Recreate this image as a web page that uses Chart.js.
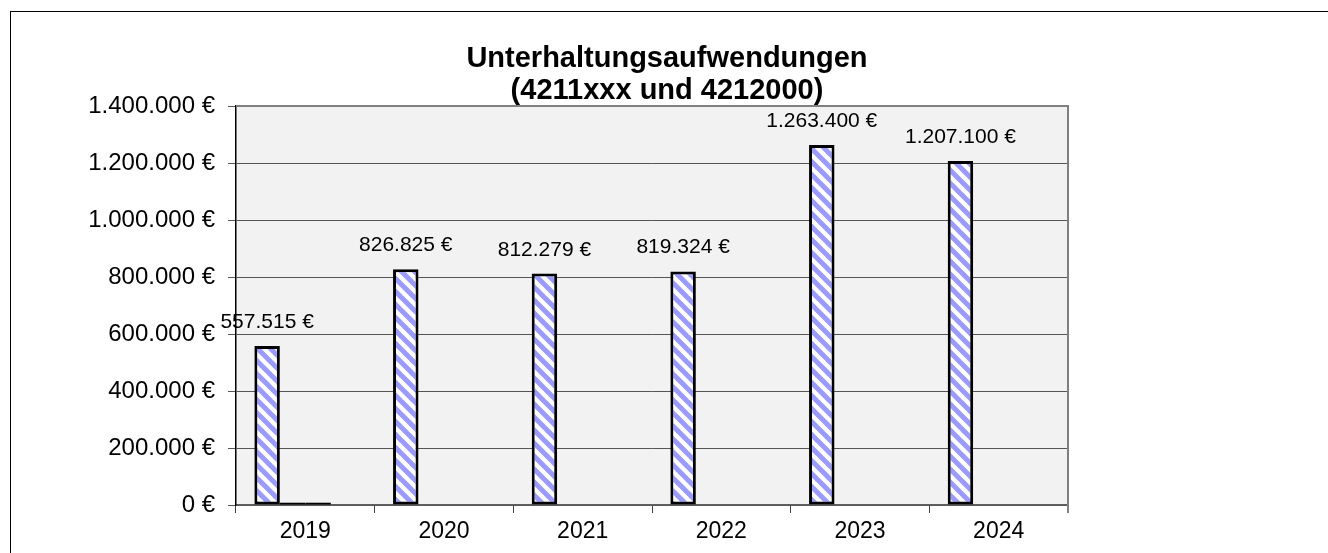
<!DOCTYPE html>
<html>
<head>
<meta charset="utf-8">
<script src="https://cdn.jsdelivr.net/npm/chart.js@4.4.0/dist/chart.umd.min.js"></script>
<style>
  html, body { margin: 0; padding: 0; background: #fff; }
  #wrap { position: relative; width: 1328px; height: 553px; overflow: hidden; }
  #frame { position: absolute; left: 10px; top: 11px; width: 1330px; height: 560px;
           border-top: 1.5px solid #000; border-left: 1.5px solid #000; box-sizing: border-box; }
  canvas { position: absolute; left: 0; top: 0; }
</style>
</head>
<body>
<div id="wrap">
  <div id="frame"></div>
  <canvas id="chart" width="1328" height="553"></canvas>
</div>
<script>
// Chart data
const years = ['2019', '2020', '2021', '2022', '2023', '2024'];
const aufwand = [557515, 826825, 812279, 819324, 1263400, 1207100];
const reihe2 = [8000, null, null, null, null, null];
const reihe3 = [8000, null, null, null, null, null];
const reihe4 = [null, null, null, null, null, null];
const titleLines = ['Unterhaltungsaufwendungen', '(4211xxx und 4212000)'];
const yMax = 1400000;
const yStep = 200000;

const FONT = '"Liberation Sans", Arial, sans-serif';

const euro = (v) => String(Math.round(v)).replace(/\B(?=(\d{3})+(?!\d))/g, '.') + ' €';

// blue/white diagonal hatch like the old Excel fill
function makeHatch() {
    const n = 13;
    const c = document.createElement('canvas');
    c.width = n; c.height = n;
    const g = c.getContext('2d');
    g.fillStyle = '#ffffff';
    g.fillRect(0, 0, n, n);
    g.strokeStyle = '#9a9aff';
    g.lineWidth = 5;
    for (const k of [-n, 0, n]) {
        g.beginPath();
        g.moveTo(k - 2, -2);
        g.lineTo(k + n + 2, n + 2);
        g.stroke();
    }
    return g.createPattern(c, 'repeat');
}

const plotFrame = {
    id: 'plotFrame',
    beforeDatasetsDraw(chart) {
        const { ctx, chartArea: a } = chart;
        ctx.save();
        ctx.strokeStyle = '#808080';
        ctx.lineWidth = 2;
        ctx.beginPath();
        ctx.moveTo(a.left, a.top);
        ctx.lineTo(a.right, a.top);
        ctx.lineTo(a.right, a.bottom + 8);
        ctx.stroke();
        ctx.restore();
    },
    beforeDraw(chart) {
        const { ctx, chartArea: a } = chart;
        ctx.save();
        ctx.fillStyle = '#f2f2f2';
        ctx.fillRect(a.left, a.top, a.right - a.left, a.bottom - a.top);
        ctx.restore();
    }
};

const valueLabels = {
    id: 'valueLabels',
    afterDatasetsDraw(chart) {
        const { ctx } = chart;
        const meta = chart.getDatasetMeta(0);
        ctx.save();
        ctx.font = '21px ' + FONT;
        ctx.fillStyle = '#000';
        ctx.textAlign = 'center';
        ctx.textBaseline = 'alphabetic';
        meta.data.forEach((bar, i) => {
            ctx.fillText(euro(aufwand[i]), bar.x, bar.y - 18);
        });
        ctx.restore();
    }
};

const titleDraw = {
    id: 'titleDraw',
    afterDraw(chart) {
        const { ctx } = chart;
        ctx.save();
        ctx.font = 'bold 29px ' + FONT;
        ctx.fillStyle = '#000';
        ctx.textAlign = 'center';
        ctx.textBaseline = 'alphabetic';
        ctx.fillText(titleLines[0], 667, 67);
        ctx.fillText(titleLines[1], 667, 99);
        ctx.restore();
    }
};

const hatch = makeHatch();

new Chart(document.getElementById('chart'), {
    type: 'bar',
    data: {
        labels: years,
        datasets: [
            { label: 'Unterhaltungsaufwendungen', data: aufwand, backgroundColor: hatch,
              borderColor: '#000', borderWidth: 3, borderSkipped: false },
            { label: 'Reihe 2', data: reihe2, backgroundColor: '#000', borderWidth: 0 },
            { label: 'Reihe 3', data: reihe3, backgroundColor: '#000', borderWidth: 0 },
            { label: 'Reihe 4', data: reihe4, backgroundColor: '#000', borderWidth: 0 }
        ]
    },
    options: {
        responsive: false,
        animation: false,
        layout: { padding: { left: 0, right: 260, top: 106, bottom: 0 } },
        datasets: { bar: { categoryPercentage: 0.735, barPercentage: 1 } },
        plugins: {
            legend: { display: false },
            title: { display: false },
            tooltip: { enabled: false }
        },
        scales: {
            x: {
                afterFit: (s) => { s.height = 48; },
                grid: { offset: true, drawOnChartArea: false, tickLength: 8, color: '#404040' },
                border: { color: '#606060', width: 1.5 },
                ticks: { font: { family: FONT, size: 23 }, color: '#000', padding: 5 }
            },
            y: {
                min: 0,
                max: yMax,
                afterFit: (s) => { s.width = 236; },
                grid: { color: '#555', lineWidth: 1, tickLength: 8 },
                border: { color: '#000', width: 1.5 },
                ticks: {
                    stepSize: yStep,
                    font: { family: FONT, size: 24 },
                    color: '#000',
                    padding: 13,
                    callback: (v) => euro(v)
                }
            }
        }
    },
    plugins: [plotFrame, valueLabels, titleDraw]
});
</script>
</body>
</html>
